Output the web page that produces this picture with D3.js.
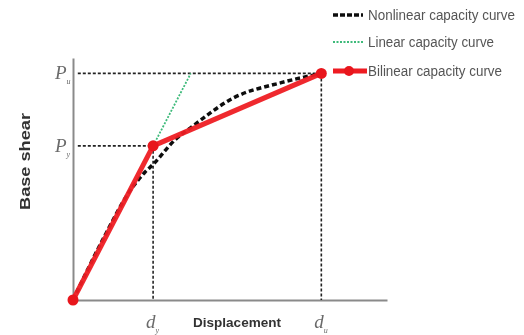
<!DOCTYPE html>
<html>
<style>
  body { margin: 0; background: #fff; overflow: hidden; }
  .lbl { font-family: "Liberation Sans Narrow", "Liberation Sans", Arial, sans-serif; }
</style>
<script src="https://cdn.jsdelivr.net/npm/d3@7"></script>
<svg id="chart"></svg>
<script>
// normalised values: yield point at (1, 1)
var dy = 1.0, du = 3.1, Py = 1.0, Pu = 1.47;
var xMax = 3.92, yMax = 1.57;

var nonlinear = [[0, 0], [0.4, 0.42], [0.7, 0.7], [0.9, 0.83], [1.0, 0.88], [1.275, 1.04],
                 [1.475, 1.12], [2.0, 1.31], [2.6, 1.41], [3.1, 1.47]];
var linear = [[dy, Py], [Pu * dy / Py, Pu]];
var bilinear = [[0, 0], [dy, Py], [du, Pu]];

var legendNames = ["Nonlinear capacity curve", "Linear capacity curve", "Bilinear capacity curve"];

var width = 524, height = 335;
var x = d3.scaleLinear().domain([0, xMax]).range([73, 387]),
    y = d3.scaleLinear().domain([0, yMax]).range([300, 58]);

var svg0 = d3.select("#chart").attr("width", width).attr("height", height);
svg0.append("defs").append("filter").attr("id", "soft")
  .append("feGaussianBlur").attr("stdDeviation", 0.55);
var svg = svg0.append("g").attr("filter", "url(#soft)");

// axes
svg.append("g")
    .attr("transform", "translate(0,300)")
    .call(d3.axisBottom(x).tickValues([]).tickSize(0))
    .call(function(g) { g.select(".domain").attr("stroke", "#8a8a8a").attr("stroke-width", 2) });
svg.append("g")
    .attr("transform", "translate(73,0)")
    .call(d3.axisLeft(y).tickValues([]).tickSize(0))
    .call(function(g) { g.select(".domain").attr("stroke", "#8a8a8a").attr("stroke-width", 2) });

// reference lines
var refs = [
  [[0.06, Pu], [du, Pu]],
  [[0.06, Py], [dy, Py]],
  [[dy, Py], [dy, 0]],
  [[du, Pu], [du, 0]]
];
var line = d3.line().x(function(d) { return x(d[0]) }).y(function(d) { return y(d[1]) });

svg.selectAll(".ref").data(refs).enter().append("path")
    .attr("class", "ref")
    .attr("d", line)
    .attr("fill", "none")
    .attr("stroke", "#222")
    .attr("stroke-width", 1.6)
    .attr("stroke-dasharray", "3,2");

// linear
svg.append("path").datum(linear)
    .attr("d", line)
    .attr("fill", "none")
    .attr("stroke", "#3dba7a")
    .attr("stroke-width", 1.8)
    .attr("stroke-dasharray", "2,1.5");

// nonlinear
svg.append("path").datum(nonlinear)
    .attr("d", line.curve(d3.curveMonotoneX))
    .attr("fill", "none")
    .attr("stroke", "#111")
    .attr("stroke-width", 3.5)
    .attr("stroke-dasharray", "5,3");
line.curve(d3.curveLinear);

// bilinear
svg.append("path").datum(bilinear)
    .attr("d", line)
    .attr("fill", "none")
    .attr("stroke", "#ee1c24")
    .attr("stroke-width", 5)
    .attr("stroke-linejoin", "round")
    .attr("opacity", 0.95);
svg.selectAll(".pt").data(bilinear).enter().append("circle")
    .attr("cx", function(d) { return x(d[0]) })
    .attr("cy", function(d) { return y(d[1]) })
    .attr("r", 5.5)
    .attr("fill", "#e8141c");

// tick symbols
function sym(g, base, sub, px, py) {
  var t = g.append("text")
      .attr("x", px).attr("y", py)
      .attr("font-family", "Liberation Serif, serif")
      .attr("font-style", "italic")
      .attr("fill", "#6a6a6a")
      .attr("font-size", 19);
  t.append("tspan").text(base);
  t.append("tspan").attr("font-size", 8).attr("dy", 5).text(sub);
}
sym(svg, "P", "u", x(0) - 18, y(Pu) + 6);
sym(svg, "P", "y", x(0) - 18, y(Py) + 6);
sym(svg, "d", "y", x(dy) - 7, 328);
sym(svg, "d", "u", x(du) - 7, 328);

svg.append("text").attr("class", "lbl")
    .attr("x", 193).attr("y", 327)
    .attr("font-weight", "bold").attr("font-size", 13)
    .attr("fill", "#333")
    .attr("textLength", 88).attr("lengthAdjust", "spacingAndGlyphs")
    .text("Displacement");

svg.append("text").attr("class", "lbl")
    .attr("transform", "translate(30,210) rotate(-90)")
    .attr("font-weight", "bold").attr("font-size", 14)
    .attr("fill", "#333")
    .attr("textLength", 97).attr("lengthAdjust", "spacingAndGlyphs")
    .text("Base shear");

// legend
var leg = svg.append("g");
var legY = [15, 42, 71];
var lengths = [147, 126, 134];
leg.selectAll("text").data(legendNames).enter().append("text")
    .attr("class", "lbl")
    .attr("x", 368)
    .attr("y", function(d, i) { return legY[i] + 5 })
    .attr("font-size", 14)
    .attr("fill", "#555")
    .attr("textLength", function(d, i) { return lengths[i] })
    .attr("lengthAdjust", "spacingAndGlyphs")
    .text(function(d) { return d });

leg.append("line").attr("x1", 333).attr("x2", 363).attr("y1", legY[0]).attr("y2", legY[0])
    .attr("stroke", "#111").attr("stroke-width", 3.5).attr("stroke-dasharray", "5,2");
leg.append("line").attr("x1", 333).attr("x2", 363).attr("y1", legY[1]).attr("y2", legY[1])
    .attr("stroke", "#3dba7a").attr("stroke-width", 1.8).attr("stroke-dasharray", "2,1.5");
leg.append("line").attr("x1", 333).attr("x2", 367).attr("y1", legY[2]).attr("y2", legY[2])
    .attr("stroke", "#ee1c24").attr("stroke-width", 5);
leg.append("circle").attr("cx", 349).attr("cy", legY[2]).attr("r", 5).attr("fill", "#e8141c");
</script>
</html>
